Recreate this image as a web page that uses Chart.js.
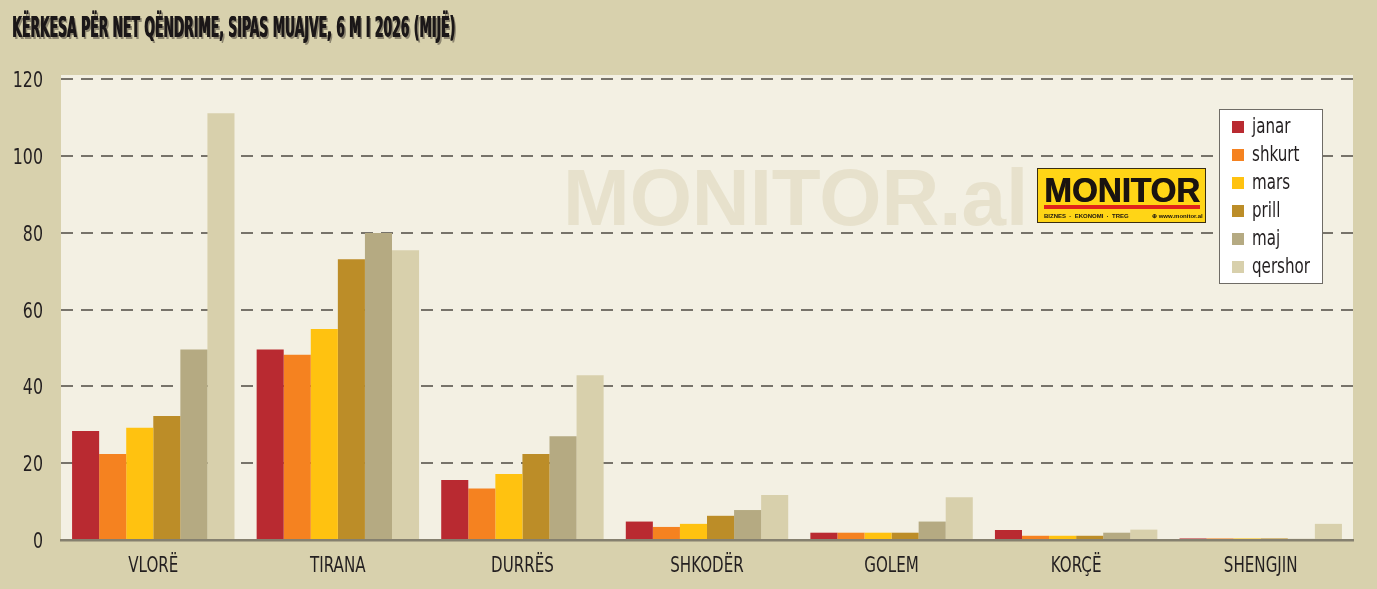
<!DOCTYPE html>
<html lang="sq">
<head>
  <meta charset="UTF-8">
  <title>Kërkesa për net qëndrime, sipas muajve</title>
  <script src="https://cdn.jsdelivr.net/npm/chart.js"></script>
  <style>
    html, body { margin: 0; padding: 0; background: #d8d1ad; }
    #wrap { position: relative; width: 1377px; height: 589px; }
  </style>
</head>
<body>
  <div id="wrap"><canvas id="chart" width="1377" height="589"></canvas></div>

  <script>
    // të dhënat (mijë net qëndrime)
    const cities = ['VLORË', 'TIRANA', 'DURRËS', 'SHKODËR', 'GOLEM', 'KORÇË', 'SHENGJIN'];
    const months = ['janar', 'shkurt', 'mars', 'prill', 'maj', 'qershor'];
    const janar   = [28.4, 49.6, 15.6, 4.8, 1.9, 2.6, 0.4];
    const shkurt  = [22.4, 48.2, 13.4, 3.4, 1.9, 1.1, 0.4];
    const mars    = [29.2, 54.9, 17.2, 4.2, 1.9, 1.1, 0.4];
    const prill   = [32.3, 73.1, 22.4, 6.3, 1.9, 1.1, 0.4];
    const maj     = [49.6, 79.9, 27.0, 7.8, 4.8, 1.9, 0.3];
    const qershor = [111.1, 75.4, 42.9, 11.7, 11.1, 2.7, 4.2];
    const yTicks  = [0, 20, 40, 60, 80, 100, 120];

    const series = [janar, shkurt, mars, prill, maj, qershor];
    const colors = ['#b92a31', '#f58220', '#ffc210', '#bc8d28', '#b5aa82', '#d8d0ac'];

    const NARROW = '"Liberation Sans Narrow", "DejaVu Sans Condensed", sans-serif';
    const BG = '#d8d1ad';
    const PLOT_BG = '#f3f0e3';
    const INK = '#231f20';

    // tekst i ngushtuar horizontalisht (shkronjat e origjinalit janë shumë të ngushta)
    function narrowText(ctx, text, x, y, align, sx) {
      ctx.save();
      ctx.translate(x, y);
      ctx.scale(sx, 1);
      ctx.textAlign = align;
      ctx.fillText(text, 0, 0);
      ctx.restore();
    }

    // sfondi, titulli, watermark
    const backdrop = {
      id: 'backdrop',
      beforeDraw(chart) {
        const { ctx, chartArea: a } = chart;
        ctx.save();
        ctx.fillStyle = BG;
        ctx.fillRect(0, 0, chart.width, chart.height);
        ctx.fillStyle = PLOT_BG;
        ctx.fillRect(a.left, a.top - 4, a.right - a.left, a.bottom - a.top + 4);

        // titulli
        const title = 'KËRKESA PËR NET QËNDRIME, SIPAS MUAJVE, 6 M I 2026 (MIJË)';
        ctx.font = 'bold 28px ' + NARROW;
        ctx.textBaseline = 'alphabetic';
        ctx.fillStyle = '#8d8670';
        ctx.fillText(title, 14, 39, 443);
        ctx.fillStyle = '#1b1718';
        ctx.fillText(title, 12, 37, 443);
        ctx.fillText(title, 12.6, 37, 443);

        // watermark
        ctx.font = 'bold 80px "Liberation Sans", Arial, sans-serif';
        ctx.fillStyle = '#e7e1cc';
        ctx.fillText('MONITOR.al', 563, 225);
        ctx.restore();
      },
      beforeDatasetsDraw(chart) {
        // logo
        const { ctx } = chart;
        ctx.save();
        ctx.fillStyle = '#ffd516';
        ctx.fillRect(1037, 168, 169, 55);
        ctx.strokeStyle = '#3a2e10';
        ctx.lineWidth = 1;
        ctx.strokeRect(1037.5, 168.5, 168, 54);
        ctx.fillStyle = '#1a1410';
        ctx.font = 'bold 35px "Liberation Sans", Arial, sans-serif';
        ctx.textBaseline = 'alphabetic';
        ctx.fillText('MONITOR', 1044, 202, 156);
        ctx.fillText('MONITOR', 1044.8, 202, 156);
        ctx.fillStyle = '#e2231a';
        ctx.fillRect(1044, 205, 156, 4);
        ctx.fillStyle = '#1a1410';
        ctx.font = 'bold 6px "Liberation Sans", Arial, sans-serif';
        ctx.fillText('BIZNES  ·  EKONOMI  ·  TREG', 1044, 218);
        ctx.fillText('⊕ www.monitor.al', 1152, 218);
        ctx.restore();
      }
    };

    // etiketat e boshteve, të vizatuara nga pozicionet e shkallëve
    const axisLabels = {
      id: 'axisLabels',
      afterDraw(chart) {
        const { ctx } = chart;
        const xs = chart.scales.x, ys = chart.scales.y;
        ctx.save();
        ctx.fillStyle = INK;
        ctx.textBaseline = 'alphabetic';
        ctx.font = '21px ' + NARROW;
        xs.ticks.forEach((t, i) => {
          narrowText(ctx, chart.data.labels[i], xs.getPixelForTick(i), 572, 'center', 0.8);
        });
        ctx.font = '22px ' + NARROW;
        ys.ticks.forEach(t => {
          narrowText(ctx, String(t.value), 43, ys.getPixelForValue(t.value) + 8, 'right', 0.8);
        });
        ctx.restore();
      }
    };

    // legjenda brenda grafikut
    const boxLegend = {
      id: 'boxLegend',
      afterDatasetsDraw(chart) {
        const { ctx } = chart;
        const x = 1219, y = 109, w = 103, h = 174;
        ctx.save();
        ctx.fillStyle = '#ffffff';
        ctx.fillRect(x, y, w, h);
        ctx.strokeStyle = '#6f6c66';
        ctx.lineWidth = 1;
        ctx.strokeRect(x + 0.5, y + 0.5, w, h);
        ctx.font = '21px ' + NARROW;
        ctx.textBaseline = 'alphabetic';
        chart.data.datasets.forEach((ds, i) => {
          const cy = 127 + i * 28;
          ctx.fillStyle = ds.backgroundColor;
          ctx.fillRect(1232, cy - 6, 12, 12);
          ctx.fillStyle = INK;
          narrowText(ctx, ds.label, 1252, cy + 6, 'left', 0.8);
        });
        ctx.restore();
      }
    };

    new Chart(document.getElementById('chart'), {
      type: 'bar',
      data: {
        labels: cities,
        datasets: months.map((m, i) => ({
          label: m,
          data: series[i],
          backgroundColor: colors[i],
          borderWidth: 0,
          categoryPercentage: 0.88,
          barPercentage: 1.0
        }))
      },
      options: {
        responsive: false,
        animation: false,
        layout: { padding: { top: 79, right: 24, left: 0, bottom: 0 } },
        plugins: {
          legend: { display: false },
          tooltip: { enabled: false }
        },
        scales: {
          x: {
            grid: { display: false },
            border: { display: true, color: '#85806f', width: 2.5 },
            ticks: { color: 'rgba(0,0,0,0)', font: { size: 20 } },
            afterFit(axis) { axis.height = 49; }
          },
          y: {
            min: 0,
            max: 120,
            afterBuildTicks(axis) { axis.ticks = yTicks.map(v => ({ value: v })); },
            grid: {
              drawTicks: false,
              color: ctx => ctx.tick.value === 0 ? 'rgba(0,0,0,0)' : '#77736a',
              lineWidth: 2
            },
            border: { display: false, dash: [12, 8] },
            ticks: { color: 'rgba(0,0,0,0)', font: { size: 20 } },
            afterFit(axis) { axis.width = 61; }
          }
        }
      },
      plugins: [backdrop, axisLabels, boxLegend]
    });
  </script>
</body>
</html>
